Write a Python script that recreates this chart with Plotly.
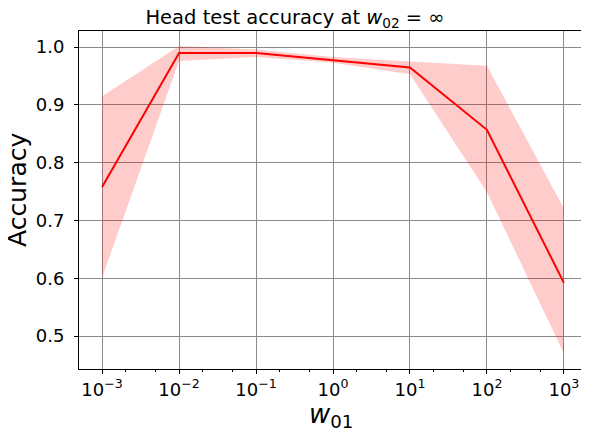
import plotly.graph_objects as go

w01 = [1e-3, 1e-2, 1e-1, 1e0, 1e1, 1e2, 1e3]
acc_mean = [0.758, 0.990, 0.990, 0.978, 0.965, 0.857, 0.592]
acc_upper = [0.915, 1.002, 0.996, 0.983, 0.975, 0.968, 0.721]
acc_lower = [0.601, 0.976, 0.983, 0.973, 0.953, 0.749, 0.470]
x_tickvals = [1e-3, 1e-2, 1e-1, 1e0, 1e1, 1e2, 1e3]
x_ticktext = ["10<sup>−3</sup>", "10<sup>−2</sup>", "10<sup>−1</sup>", "10<sup>0</sup>",
              "10<sup>1</sup>", "10<sup>2</sup>", "10<sup>3</sup>"]
y_tickvals = [0.5, 0.6, 0.7, 0.8, 0.9, 1.0]
y_ticktext = ["0.5", "0.6", "0.7", "0.8", "0.9", "1.0"]

fig = go.Figure()
fig.add_trace(go.Scatter(x=w01, y=acc_upper, mode="lines", line=dict(width=0),
                         showlegend=False, hoverinfo="skip"))
fig.add_trace(go.Scatter(x=w01, y=acc_lower, mode="lines", line=dict(width=0),
                         fill="tonexty", fillcolor="rgba(255,0,0,0.2)",
                         showlegend=False, hoverinfo="skip"))
fig.add_trace(go.Scatter(x=w01, y=acc_mean, mode="lines",
                         line=dict(color="red", width=2), showlegend=False))

font = "DejaVu Sans"
# page body has an 8px margin, so the figure is sized/offset to compensate
fig.update_layout(
    width=581, height=421,
    margin=dict(l=71, r=2, t=23, b=60, autoexpand=False),
    plot_bgcolor="white", paper_bgcolor="white",
    font=dict(family=font, color="black", size=16),
    title=dict(text="Head test accuracy at <i>w</i><sub>02</sub> = ∞",
               x=0.494, xanchor="center", xref="container", y=0.978, yanchor="middle",
               font=dict(size=19.5)),
    annotations=[
        dict(text="<i>w</i><sub>01</sub>", xref="paper", yref="paper",
             x=0.496, y=-0.138, xanchor="center", yanchor="middle",
             showarrow=False, font=dict(size=26)),
        dict(text="Accuracy", xref="paper", yref="paper", textangle=-90,
             x=-0.120, y=0.530, xanchor="center", yanchor="middle",
             showarrow=False, font=dict(size=25)),
    ],
)
fig.update_xaxes(
    type="log", range=[-3.30, 3.30], automargin=False,
    tickvals=x_tickvals, ticktext=x_ticktext,
    showgrid=True, gridcolor="#8a8a8a", gridwidth=1,
    showline=True, linecolor="black", linewidth=1, mirror=True,
    ticks="outside", ticklen=4, tickcolor="black",
    minor=dict(ticks="outside", ticklen=2, tickcolor="black", showgrid=False),
    tickfont=dict(size=18),
    zeroline=False,
)
fig.update_yaxes(
    range=[0.443, 1.028], automargin=False,
    tickvals=y_tickvals, ticktext=y_ticktext,
    showgrid=True, gridcolor="#8a8a8a", gridwidth=1,
    showline=True, linecolor="black", linewidth=1, mirror=True,
    ticks="outside", ticklen=4, tickcolor="black", ticklabelstandoff=6,
    tickfont=dict(size=18),
    zeroline=False,
)
fig.write_html("out.html")
